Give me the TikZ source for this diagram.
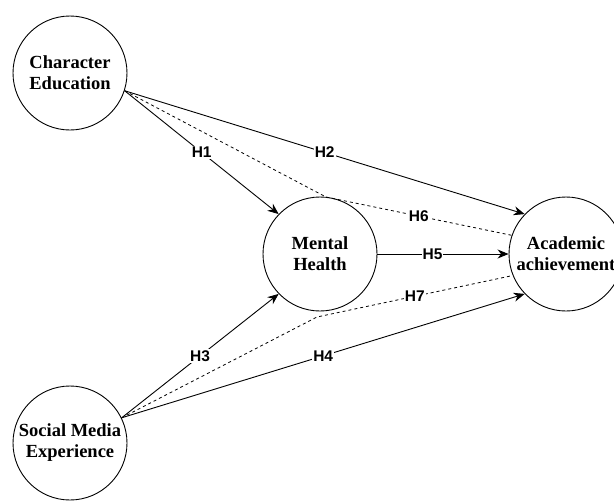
\documentclass[tikz,border=0pt]{standalone}
\usepackage{fontspec}
\setmainfont{Liberation Serif}
\newfontfamily\labfont{Liberation Sans}
\usetikzlibrary{arrows.meta}
\begin{document}
\begin{tikzpicture}[x=1pt,y=-1pt,
  var/.style={circle,draw,line width=0.9pt,minimum size=114pt,inner sep=0pt,align=center,
    font=\bfseries\fontsize{18.5}{21}\selectfont},
  hyp/.style={fill=white,inner sep=1.2pt,font=\labfont\bfseries\fontsize{15.5}{15.5}\selectfont},
  link/.style={line width=0.9pt,-{Stealth[length=11pt,width=9pt,inset=3.5pt]}},
  med/.style={line width=0.8pt,dash pattern=on 3pt off 3pt}]
\useasboundingbox (0,0) rectangle (614,501);
\node[var] (ce) at (70,73) {Character\\Education};
\node[var] (sm) at (70,443) {Social Media\\Experience};
\node[var] (mh) at (320,254) {Mental\\Health};
\node[var] (aa) at (566,254) {Academic\\achievement};
\coordinate (b6) at (326,197);
\coordinate (b7) at (317,317);
% paths
\draw[link] (ce.-18) -- node[hyp,pos=0.5] {H1} (mh.136);
\draw[link] (ce.-18) -- node[hyp,pos=0.5] {H2} (aa.136);
\draw[link] (sm.26) -- node[hyp,pos=0.5] {H3} (mh.224);
\draw[link] (sm.26) -- node[hyp,pos=0.5] {H4} (aa.224);
\draw[link] (mh.east) -- node[hyp,pos=0.42,inner sep=0.3pt] {H5} (aa.west);
\draw[med] (ce.-18) -- (b6) -- node[hyp,pos=0.5] {H6} (aa.161);
\draw[med] (sm.26) -- (b7) -- node[hyp,pos=0.5] {H7} (aa.202);
\end{tikzpicture}
\end{document}
